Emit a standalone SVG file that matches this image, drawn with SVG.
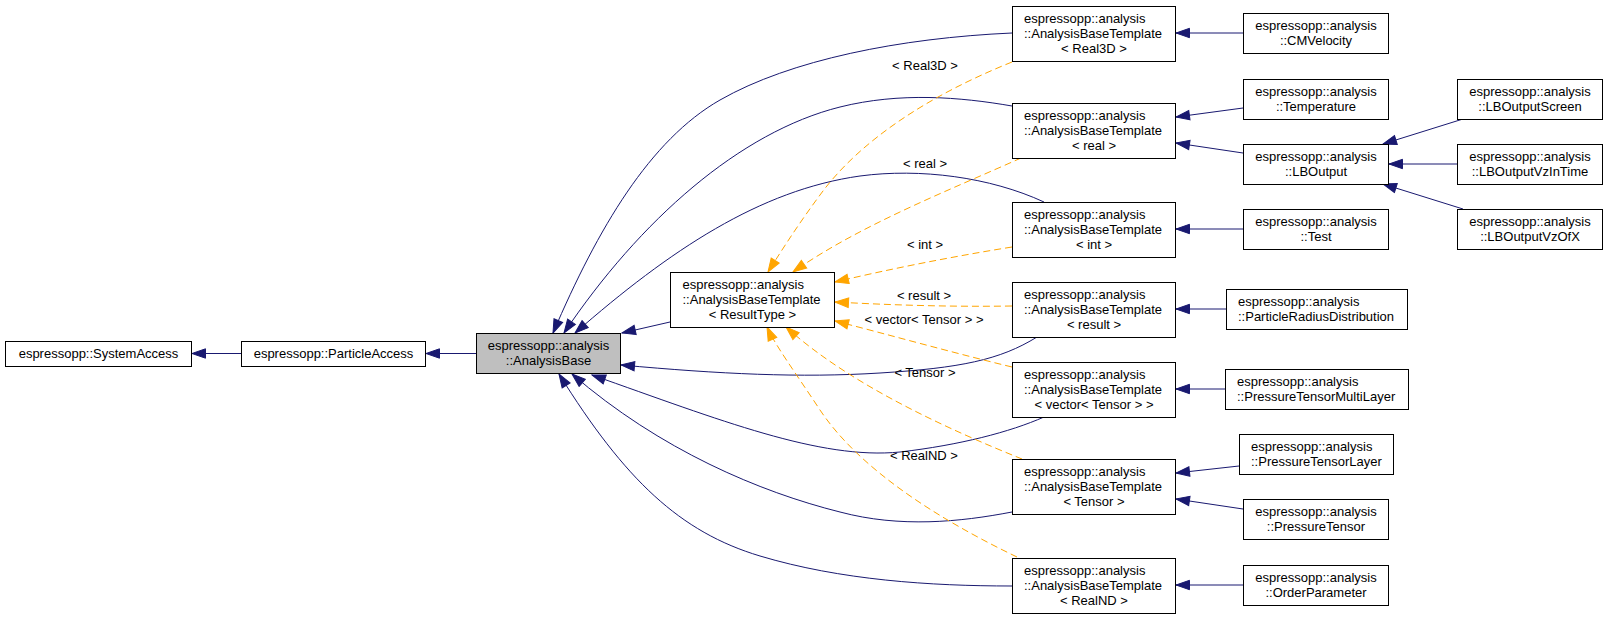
<svg xmlns="http://www.w3.org/2000/svg" width="1608" height="619" viewBox="0 0 1608 619">
<style>
.n rect{fill:#fff;stroke:#000;stroke-width:1}
#AnalysisBase rect{fill:#bfbfbf}
text{font-family:"Liberation Sans",Arial,Helvetica,sans-serif;font-size:13px;fill:#000}
.m{text-anchor:middle}
.e{fill:none;stroke:#191970;stroke-width:1}
.d{fill:none;stroke:#ffa500;stroke-width:1;stroke-dasharray:7,4}
</style>
<defs>
<marker id="ab" viewBox="-1 -6 16 12" refX="13.5" refY="0" markerWidth="16" markerHeight="12" markerUnits="userSpaceOnUse" orient="auto">
<path d="M0,-4.7 L13.5,0 L0,4.7 Z" fill="#191970" stroke="#191970" stroke-width="1"/>
</marker>
<marker id="ao" viewBox="-1 -6 16 12" refX="13.5" refY="0" markerWidth="16" markerHeight="12" markerUnits="userSpaceOnUse" orient="auto">
<path d="M0,-4.7 L13.5,0 L0,4.7 Z" fill="#ffa500" stroke="#ffa500" stroke-width="1"/>
</marker>
</defs>
<rect width="1608" height="619" fill="#fff"/>
<g id="connectors">
<g marker-end="url(#ab)">
<path class="e" d="M241,353.5 L192,353.5"/>
<path class="e" d="M476,353.5 L426,353.5"/>
<path class="e" d="M670,322 L622,333"/>
<path class="e" d="M1012,33 C900,38 790,60 720,100 C650,140 598,228 553,333"/>
<path class="e" d="M1012,106 C960,97 900,92 840,107 C740,132 640,220 564,333"/>
<path class="e" d="M1044,202 C990,177 920,168 860,176 C760,190 670,250 575,333"/>
<path class="e" d="M1037,337 C1000,360 960,368 880,373 C800,378 720,374 621,365"/>
<path class="e" d="M1044,417 C1010,432 960,445 900,452 C820,460 720,420 592,375"/>
<path class="e" d="M1012,512 C960,522 900,528 840,512 C760,492 660,450 572,374"/>
<path class="e" d="M1012,586 C930,586 840,580 760,556 C680,532 625,480 559,374"/>
<path class="e" d="M1243,33 L1176,33"/>
<path class="e" d="M1243,108 L1176,117"/>
<path class="e" d="M1243,153 L1176,143"/>
<path class="e" d="M1243,229 L1176,229"/>
<path class="e" d="M1463,119 L1383,144"/>
<path class="e" d="M1457,164 L1389,164"/>
<path class="e" d="M1463,209 L1383,184"/>
<path class="e" d="M1226,309 L1176,309"/>
<path class="e" d="M1225,389 L1176,389"/>
<path class="e" d="M1239,466 L1176,473"/>
<path class="e" d="M1243,509 L1176,499"/>
<path class="e" d="M1243,585 L1176,585"/>
</g>
<g marker-end="url(#ao)">
<path class="d" d="M1012,62 C930,95 860,140 820,195 C800,222 785,245 768,272"/>
<path class="d" d="M1021,158 C950,190 860,225 793,272"/>
<path class="d" d="M1012,247 C950,257 890,269 835,282"/>
<path class="d" d="M1012,306 C950,307 890,305 835,302"/>
<path class="d" d="M1012,367 C950,352 890,335 835,321"/>
<path class="d" d="M1022,459 C950,430 850,385 786,327"/>
<path class="d" d="M1017,557 C940,520 860,470 820,410 C795,372 775,345 767,327"/>
</g>
<text class="m" x="925" y="69.5">&lt; Real3D &gt;</text>
<text class="m" x="925" y="167.5">&lt; real &gt;</text>
<text class="m" x="925" y="248.5">&lt; int &gt;</text>
<text class="m" x="924" y="299.5">&lt; result &gt;</text>
<text class="m" x="924" y="323.5">&lt; vector&lt; Tensor &gt; &gt;</text>
<text class="m" x="925" y="376.5">&lt; Tensor &gt;</text>
<text class="m" x="924" y="459.5">&lt; RealND &gt;</text>
</g>
<g id="SystemAccess" class="n"><rect x="5.5" y="341.5" width="186" height="25"/><text class="m" x="98.5" y="358">espressopp::SystemAccess</text></g>
<g id="ParticleAccess" class="n"><rect x="241.5" y="341.5" width="184" height="25"/><text class="m" x="333.5" y="358">espressopp::ParticleAccess</text></g>
<g id="AnalysisBase" class="n"><rect x="476.5" y="333.5" width="144" height="40"/><text class="m" x="548.5" y="350">espressopp::analysis</text><text class="m" x="548.5" y="365">::AnalysisBase</text></g>
<g id="ResultType" class="n"><rect x="670.5" y="272.5" width="164" height="55"/><text x="682.5" y="289">espressopp::analysis</text><text x="682.5" y="304">::AnalysisBaseTemplate</text><text class="m" x="752.5" y="319">&lt; ResultType &gt;</text></g>
<g id="TplReal3D" class="n"><rect x="1012.5" y="6.5" width="163" height="55"/><text x="1024" y="23">espressopp::analysis</text><text x="1024" y="38">::AnalysisBaseTemplate</text><text class="m" x="1094" y="53">&lt; Real3D &gt;</text></g>
<g id="TplReal" class="n"><rect x="1012.5" y="103.5" width="163" height="55"/><text x="1024" y="120">espressopp::analysis</text><text x="1024" y="135">::AnalysisBaseTemplate</text><text class="m" x="1094" y="150">&lt; real &gt;</text></g>
<g id="TplInt" class="n"><rect x="1012.5" y="202.5" width="163" height="55"/><text x="1024" y="219">espressopp::analysis</text><text x="1024" y="234">::AnalysisBaseTemplate</text><text class="m" x="1094" y="249">&lt; int &gt;</text></g>
<g id="TplResult" class="n"><rect x="1012.5" y="282.5" width="163" height="55"/><text x="1024" y="299">espressopp::analysis</text><text x="1024" y="314">::AnalysisBaseTemplate</text><text class="m" x="1094" y="329">&lt; result &gt;</text></g>
<g id="TplVector" class="n"><rect x="1012.5" y="362.5" width="163" height="55"/><text x="1024" y="379">espressopp::analysis</text><text x="1024" y="394">::AnalysisBaseTemplate</text><text class="m" x="1094" y="409">&lt; vector&lt; Tensor &gt; &gt;</text></g>
<g id="TplTensor" class="n"><rect x="1012.5" y="459.5" width="163" height="55"/><text x="1024" y="476">espressopp::analysis</text><text x="1024" y="491">::AnalysisBaseTemplate</text><text class="m" x="1094" y="506">&lt; Tensor &gt;</text></g>
<g id="TplRealND" class="n"><rect x="1012.5" y="558.5" width="163" height="55"/><text x="1024" y="575">espressopp::analysis</text><text x="1024" y="590">::AnalysisBaseTemplate</text><text class="m" x="1094" y="605">&lt; RealND &gt;</text></g>
<g id="CMVelocity" class="n"><rect x="1243.5" y="13.5" width="145" height="40"/><text class="m" x="1316" y="30">espressopp::analysis</text><text class="m" x="1316" y="45">::CMVelocity</text></g>
<g id="Temperature" class="n"><rect x="1243.5" y="79.5" width="145" height="40"/><text class="m" x="1316" y="96">espressopp::analysis</text><text class="m" x="1316" y="111">::Temperature</text></g>
<g id="LBOutput" class="n"><rect x="1243.5" y="144.5" width="145" height="40"/><text class="m" x="1316" y="161">espressopp::analysis</text><text class="m" x="1316" y="176">::LBOutput</text></g>
<g id="Test" class="n"><rect x="1243.5" y="209.5" width="145" height="40"/><text class="m" x="1316" y="226">espressopp::analysis</text><text class="m" x="1316" y="241">::Test</text></g>
<g id="LBOutputScreen" class="n"><rect x="1457.5" y="79.5" width="145" height="40"/><text class="m" x="1530" y="96">espressopp::analysis</text><text class="m" x="1530" y="111">::LBOutputScreen</text></g>
<g id="LBOutputVzInTime" class="n"><rect x="1457.5" y="144.5" width="145" height="40"/><text class="m" x="1530" y="161">espressopp::analysis</text><text class="m" x="1530" y="176">::LBOutputVzInTime</text></g>
<g id="LBOutputVzOfX" class="n"><rect x="1457.5" y="209.5" width="145" height="40"/><text class="m" x="1530" y="226">espressopp::analysis</text><text class="m" x="1530" y="241">::LBOutputVzOfX</text></g>
<g id="ParticleRadiusDistribution" class="n"><rect x="1226.5" y="289.5" width="181" height="40"/><text x="1238" y="306">espressopp::analysis</text><text x="1238" y="321">::ParticleRadiusDistribution</text></g>
<g id="PressureTensorMultiLayer" class="n"><rect x="1225.5" y="369.5" width="183" height="40"/><text x="1237" y="386">espressopp::analysis</text><text x="1237" y="401">::PressureTensorMultiLayer</text></g>
<g id="PressureTensorLayer" class="n"><rect x="1239.5" y="434.5" width="154" height="40"/><text x="1251" y="451">espressopp::analysis</text><text x="1251" y="466">::PressureTensorLayer</text></g>
<g id="PressureTensor" class="n"><rect x="1243.5" y="499.5" width="145" height="40"/><text class="m" x="1316" y="516">espressopp::analysis</text><text class="m" x="1316" y="531">::PressureTensor</text></g>
<g id="OrderParameter" class="n"><rect x="1243.5" y="565.5" width="145" height="40"/><text class="m" x="1316" y="582">espressopp::analysis</text><text class="m" x="1316" y="597">::OrderParameter</text></g>
</svg>
